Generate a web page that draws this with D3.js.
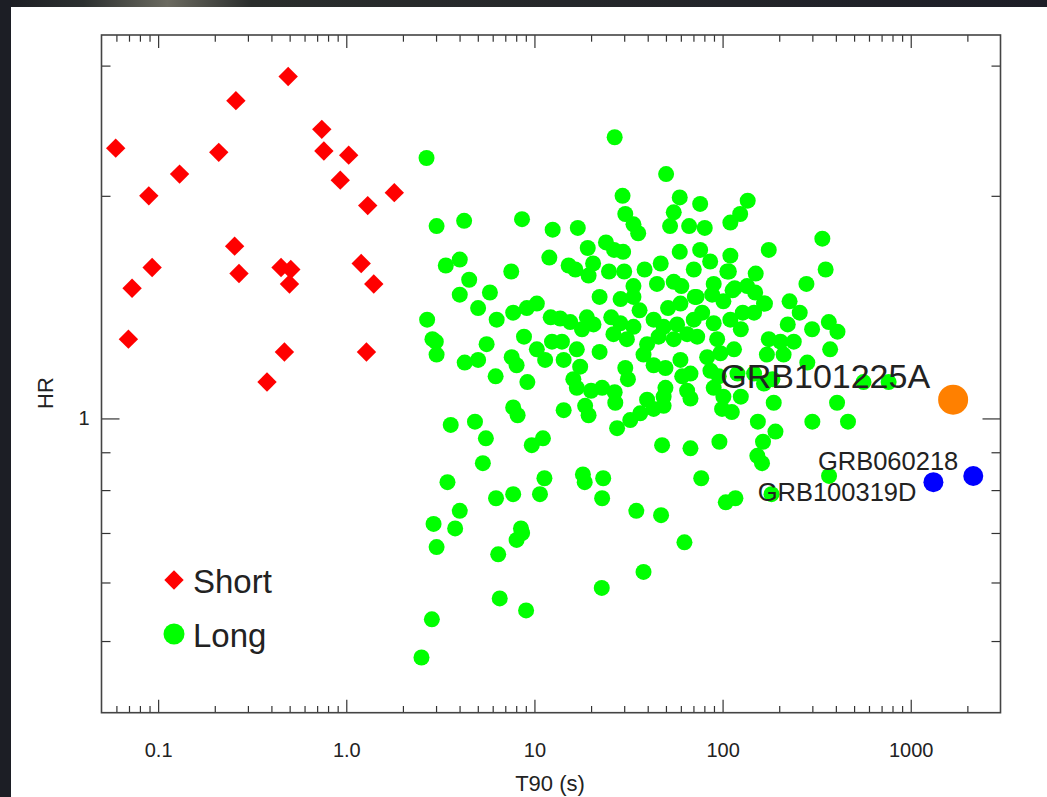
<!DOCTYPE html>
<html>
<head>
<meta charset="utf-8">
<script src="https://cdn.jsdelivr.net/npm/d3@7"></script>
<style>
  body { margin: 0; background: #fff; }
  svg { display: block; }
  text { font-family: 'Liberation Sans', Arial, Helvetica, sans-serif; fill: #222; }
</style>
</head>
<body>
<div class="container"></div>
<script>
// short bursts: [T90 (s), HR]
const shortBursts = [
  [0.491, 2.90], [0.259, 2.69], [0.741, 2.46], [0.0595, 2.32], [0.210, 2.29],
  [0.760, 2.30], [1.03, 2.27], [0.130, 2.14], [0.929, 2.10], [0.0892, 2.00],
  [1.80, 2.02], [1.30, 1.94], [0.255, 1.71], [0.0929, 1.60], [0.269, 1.57],
  [0.450, 1.60], [0.507, 1.59], [0.499, 1.52], [1.20, 1.62], [1.40, 1.52],
  [0.0727, 1.50], [0.0695, 1.28], [0.469, 1.23], [1.28, 1.23], [0.379, 1.12]
];

// long bursts: [T90 (s), HR]
const longBursts = [
  [26.7, 2.40], [2.67, 2.25], [50.1, 2.14], [29.4, 2.00], [59.2, 1.99], [76.0, 1.95], [136, 1.97],
  [124, 1.89], [110, 1.84], [55.0, 1.90], [30.4, 1.89], [33.6, 1.83], [35.6, 1.78], [52.6, 1.82],
  [66.4, 1.82], [80.4, 1.81], [3.02, 1.82], [4.23, 1.85], [8.59, 1.86], [12.5, 1.80], [17.0, 1.81],
  [339, 1.75], [176, 1.69], [59.2, 1.68], [76.0, 1.69], [85.9, 1.63], [110, 1.66], [108, 1.58],
  [150, 1.57], [353, 1.59], [279, 1.52], [19.2, 1.70], [24.0, 1.73], [26.5, 1.69], [29.6, 1.68],
  [12.0, 1.65], [3.38, 1.61], [4.01, 1.64], [4.50, 1.54], [4.01, 1.47], [5.80, 1.48], [5.02, 1.41],
  [6.30, 1.36], [7.53, 1.58], [2.69, 1.36], [2.87, 1.28], [3.02, 1.22], [2.99, 1.27], [15.2, 1.61],
  [16.5, 1.59], [19.4, 1.56], [20.5, 1.62], [24.9, 1.58], [30.0, 1.58], [38.5, 1.59], [46.9, 1.62],
  [44.8, 1.52], [55.0, 1.53], [60.4, 1.51], [70.3, 1.59], [71.2, 1.46], [33.6, 1.51], [89.7, 1.52],
  [88.0, 1.47], [106, 1.58], [113, 1.49], [135, 1.51], [149, 1.48], [168, 1.43], [227, 1.44],
  [257, 1.39], [222, 1.34], [299, 1.32], [367, 1.35], [408, 1.31], [373, 1.24], [406, 1.05],
  [464, 0.99], [300, 0.99], [187, 1.05], [154, 0.99], [191, 0.96], [164, 0.93], [22.2, 1.46],
  [28.7, 1.45], [33.6, 1.46], [36.2, 1.40], [51.3, 1.41], [59.7, 1.43], [72.7, 1.46], [101, 1.44],
  [116, 1.50], [128, 1.39], [147, 1.39], [166, 1.43], [7.71, 1.39], [9.11, 1.41], [10.3, 1.43],
  [12.2, 1.37], [13.7, 1.365], [15.5, 1.35], [19.0, 1.37], [20.6, 1.34], [17.9, 1.32], [25.6, 1.37],
  [28.6, 1.345], [26.3, 1.30], [31.0, 1.28], [33.6, 1.33], [43.0, 1.36], [48.6, 1.33], [57.3, 1.34],
  [70.3, 1.36], [77.9, 1.39], [89.7, 1.345], [110, 1.36], [125, 1.32], [45.7, 1.29], [39.7, 1.26],
  [38.0, 1.22], [55.0, 1.28], [64.8, 1.30], [73.3, 1.29], [93.6, 1.28], [97.4, 1.225], [115, 1.24],
  [176, 1.28], [203, 1.27], [239, 1.27], [172, 1.22], [211, 1.22], [282, 1.19], [8.80, 1.29],
  [5.57, 1.26], [4.26, 1.19], [5.02, 1.20], [6.22, 1.14], [7.57, 1.21], [8.04, 1.18], [9.17, 1.12],
  [10.3, 1.24], [11.4, 1.20], [12.4, 1.27], [14.0, 1.27], [14.3, 1.20], [16.8, 1.24], [17.5, 1.175],
  [16.1, 1.13], [16.8, 1.10], [22.2, 1.23], [20.0, 1.09], [22.9, 1.10], [26.7, 1.085], [26.9, 1.05],
  [30.4, 1.17], [31.4, 1.13], [43.0, 1.18], [49.7, 1.17], [59.7, 1.20], [61.0, 1.14], [67.5, 1.15],
  [82.8, 1.21], [86.2, 1.16], [89.7, 1.10], [49.7, 1.10], [48.6, 1.07], [39.7, 1.06], [43.0, 1.03],
  [36.5, 1.016], [32.3, 0.995], [27.5, 0.97], [48.6, 1.04], [64.8, 1.09], [67.5, 1.064], [101, 1.07],
  [99.4, 1.03], [112, 1.02], [125, 1.07], [95.4, 1.14], [120, 1.15], [147, 1.15], [166, 1.115],
  [14.3, 1.026], [18.6, 1.04], [19.4, 1.01], [7.71, 1.035], [8.14, 1.01], [3.59, 0.98], [4.83, 0.99],
  [5.52, 0.94], [9.68, 0.92], [11.1, 0.94], [47.7, 0.92], [67.5, 0.911], [96.2, 0.93], [5.32, 0.87],
  [3.45, 0.82], [11.3, 0.83], [18.1, 0.84], [18.5, 0.82], [23.2, 0.83], [77.0, 0.83], [6.25, 0.78],
  [7.71, 0.79], [10.7, 0.79], [22.9, 0.78], [104, 0.77], [117, 0.78], [182, 0.79], [34.8, 0.75],
  [47.1, 0.74], [4.01, 0.75], [2.91, 0.72], [3.79, 0.71], [3.02, 0.67], [8.48, 0.71], [8.6, 0.70],
  [8.04, 0.685], [6.42, 0.655], [62.7, 0.68], [38.0, 0.62], [22.8, 0.59], [6.54, 0.571], [9.03, 0.55],
  [2.85, 0.535], [2.51, 0.475], [368, 0.836], [561, 1.12], [763, 1.12], [153, 0.89], [162, 0.87],
  [184, 1.13]
];

// named bursts
const namedBursts = ['GRB101225A', 'GRB060218', 'GRB100319D'];
const namedT90 = [1680, 2150, 1320];
const namedHR = [1.06, 0.836, 0.82];

const xTickValues = [0.1, 1, 10, 100, 1000];
const xTickLabels = ['0.1', '1.0', '10', '100', '1000'];
const yTickValues = [1];
const yTickLabels = ['1'];
const legendLabels = ['Short', 'Long'];

const W = 1047, H = 797;
const plot = {left: 101.5, right: 1000.5, top: 35, bottom: 712.7};

const svg = d3.select('.container')
    .append('svg')
    .attr('width', W)
    .attr('height', H);

// screenshot frame
const defs = svg.append('defs');
const grad = defs.append('linearGradient').attr('id', 'topband');
grad.append('stop').attr('offset', '0%').attr('stop-color', '#1b1c22');
grad.append('stop').attr('offset', '8%').attr('stop-color', '#2c3030');
grad.append('stop').attr('offset', '16%').attr('stop-color', '#6b6a60');
grad.append('stop').attr('offset', '24%').attr('stop-color', '#2a2d2c');
grad.append('stop').attr('offset', '100%').attr('stop-color', '#1d1e27');
svg.append('rect').attr('width', W).attr('height', H).attr('fill', '#fff');
svg.append('rect').attr('width', W).attr('height', 7).attr('fill', 'url(#topband)');
svg.append('rect').attr('width', 11).attr('height', H).attr('fill', '#1c1e25');

const x = d3.scaleLog().domain([0.05, 3000]).range([plot.left, plot.right]);
const y = d3.scaleLog().domain([0.4, 3.3]).range([plot.bottom, plot.top]);

const isMajor = v => Math.abs(Math.log10(v) - Math.round(Math.log10(v))) < 1e-9;
const xMinor = x.ticks().filter(v => !isMajor(v) && v > 0.05 && v < 3000);
const yMinor = y.ticks().filter(v => !isMajor(v) && v > 0.4 && v < 3.3);

const styleAxis = g => {
    g.select('.domain').remove();
    g.selectAll('.tick line').attr('stroke', '#333').attr('stroke-width', 1.2);
};

// bottom
svg.append('g')
    .attr('transform', `translate(0, ${plot.bottom})`)
    .call(d3.axisBottom(x).tickValues(xTickValues).tickSize(-13).tickPadding(30)
        .tickFormat((d, i) => xTickLabels[i]))
    .call(styleAxis)
    .call(g => g.selectAll('text').attr('font-size', 20).attr('fill', '#222'));
svg.append('g')
    .attr('transform', `translate(0, ${plot.bottom})`)
    .call(d3.axisBottom(x).tickValues(xMinor).tickSize(-6.7).tickFormat(''))
    .call(styleAxis);
// top
svg.append('g')
    .attr('transform', `translate(0, ${plot.top})`)
    .call(d3.axisTop(x).tickValues(xTickValues).tickSize(-13).tickFormat(''))
    .call(styleAxis);
svg.append('g')
    .attr('transform', `translate(0, ${plot.top})`)
    .call(d3.axisTop(x).tickValues(xMinor).tickSize(-6.7).tickFormat(''))
    .call(styleAxis);
// left
svg.append('g')
    .attr('transform', `translate(${plot.left}, 0)`)
    .call(d3.axisLeft(y).tickValues(yTickValues).tickSize(-18).tickPadding(12)
        .tickFormat((d, i) => yTickLabels[i]))
    .call(styleAxis)
    .call(g => g.selectAll('text').attr('font-size', 20).attr('fill', '#222'));
svg.append('g')
    .attr('transform', `translate(${plot.left}, 0)`)
    .call(d3.axisLeft(y).tickValues(yMinor).tickSize(-9).tickFormat(''))
    .call(styleAxis);
// right
svg.append('g')
    .attr('transform', `translate(${plot.right}, 0)`)
    .call(d3.axisRight(y).tickValues(yTickValues).tickSize(-18).tickFormat(''))
    .call(styleAxis);
svg.append('g')
    .attr('transform', `translate(${plot.right}, 0)`)
    .call(d3.axisRight(y).tickValues(yMinor).tickSize(-9).tickFormat(''))
    .call(styleAxis);

// frame
svg.append('rect')
    .attr('x', plot.left).attr('y', plot.top)
    .attr('width', plot.right - plot.left).attr('height', plot.bottom - plot.top)
    .attr('fill', 'none').attr('stroke', '#444').attr('stroke-width', 1.6);

// axis titles
svg.append('text')
    .attr('x', 550).attr('y', 791)
    .attr('text-anchor', 'middle').attr('font-size', 22)
    .text('T90 (s)');
svg.append('text')
    .attr('transform', 'translate(53, 393) rotate(-90)')
    .attr('text-anchor', 'middle').attr('font-size', 22)
    .text('HR');

const diamond = d3.symbol(d3.symbolSquare, 188);

// long
svg.append('g').selectAll('circle')
    .data(longBursts)
    .join('circle')
    .attr('cx', d => x(d[0]))
    .attr('cy', d => y(d[1]))
    .attr('r', 8)
    .attr('fill', '#00ff00');

// short
svg.append('g').selectAll('path')
    .data(shortBursts)
    .join('path')
    .attr('d', diamond)
    .attr('transform', d => `translate(${x(d[0])}, ${y(d[1])}) rotate(45)`)
    .attr('fill', '#ff0000');

// named bursts
const labelOffsets = [[-23, -12, 34], [-15, -6, 25.5], [-17, 19, 25.5]];
const colors = ['#ff8000', '#0000ff', '#0000ff'];
const radii = [15, 10, 10];
namedBursts.forEach((name, i) => {
    svg.append('text')
        .attr('x', x(namedT90[i]) + labelOffsets[i][0])
        .attr('y', y(namedHR[i]) + labelOffsets[i][1])
        .attr('text-anchor', 'end')
        .attr('font-size', labelOffsets[i][2])
        .text(name);
});
svg.append('g').selectAll('circle')
    .data(namedBursts)
    .join('circle')
    .attr('cx', (d, i) => x(namedT90[i]))
    .attr('cy', (d, i) => y(namedHR[i]))
    .attr('r', (d, i) => radii[i])
    .attr('fill', (d, i) => colors[i]);

// legend
const legend = svg.append('g').attr('transform', 'translate(174, 580)');
legend.append('path')
    .attr('d', diamond)
    .attr('transform', 'rotate(45)')
    .attr('fill', '#ff0000');
legend.append('circle')
    .attr('cy', 54).attr('r', 10.5)
    .attr('fill', '#00ff00');
legend.selectAll('text')
    .data(legendLabels)
    .join('text')
    .attr('x', 19)
    .attr('y', (d, i) => 12.5 + i * 54)
    .attr('font-size', 33)
    .text(d => d);
</script>
</body>
</html>
